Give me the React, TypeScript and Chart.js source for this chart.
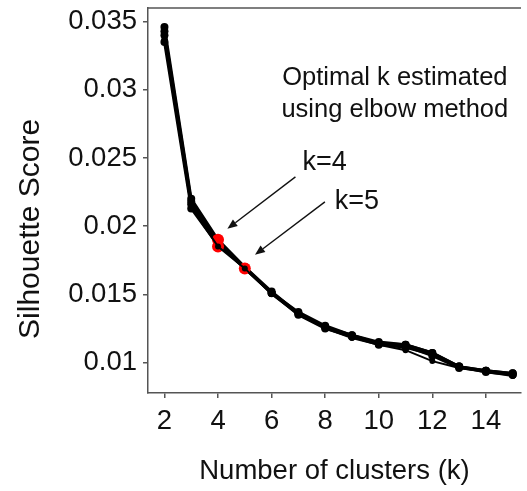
import React, { useEffect, useRef } from "react";
import { Chart, registerables } from "chart.js";
Chart.register(...registerables);

// ---- data ----
const clusters = [2, 3, 4, 5, 6, 7, 8, 9, 10, 11, 12, 13, 14, 15];
const run1 = [0.0346, 0.022, 0.019, 0.017, 0.0152, 0.0136, 0.0126, 0.012, 0.0114, 0.0113, 0.0107, 0.0097, 0.0094, 0.0092];
const run2 = [0.0343, 0.0218, 0.0188, 0.0169, 0.0151, 0.0135, 0.0125, 0.0119, 0.0113, 0.0111, 0.0106, 0.0097, 0.0093, 0.0091];
const run3 = [0.034, 0.0216, 0.0187, 0.0169, 0.0151, 0.0136, 0.0126, 0.0119, 0.0114, 0.0112, 0.0105, 0.0096, 0.0094, 0.0091];
const run4 = [0.0337, 0.0214, 0.0185, 0.0169, 0.015, 0.0135, 0.0125, 0.0118, 0.0113, 0.0109, 0.0101, 0.0096, 0.0093, 0.009];
const run5 = [0.0335, 0.0213, 0.0186, 0.017, 0.0151, 0.0137, 0.0127, 0.012, 0.0115, 0.0113, 0.0107, 0.0097, 0.0094, 0.0092];
const runs = [run1, run2, run3, run4, run5];
const topRun = 3; // index of the run drawn above the red elbow markers

const elbowK = [4, 4, 5];
const elbowScore = [0.019, 0.0185, 0.0169];

const xTicks = [2, 4, 6, 8, 10, 12, 14];
const yTicks = [0.01, 0.015, 0.02, 0.025, 0.03, 0.035];
const xRange = [1.386, 15.31];
const yRange = [0.00776, 0.036];

const xTitle = "Number of clusters (k)";
const yTitle = "Silhouette Score";
const yTitleCenter = 0.0198; // data value at which the y title is centred

const noteLines = ["Optimal k estimated", "using elbow method"];
const noteX = 10.6;
const noteY = [0.03087, 0.02852];

const arrowLabels = ["k=4", "k=5"];
const arrowLabelX = [7.15, 8.36];
const arrowLabelY = [0.02464, 0.02178];
const arrowTailX = [6.89, 7.99];
const arrowTailY = [0.02361, 0.02178];
const arrowTipX = [4.35, 5.38];
const arrowTipY = [0.0198, 0.0179];

const FONT = '"Liberation Sans", Arial, Helvetica, sans-serif';
const AXIS_COLOR = "#555";
const TEXT_COLOR = "#111";

const annotate = {
  id: "annotate",
  afterDatasetsDraw(chart: any) {
    const { ctx, chartArea, scales } = chart;
    const x = scales.x;
    const y = scales.y;
    ctx.save();
    // top frame line
    ctx.strokeStyle = AXIS_COLOR;
    ctx.lineWidth = 1.5;
    ctx.beginPath();
    ctx.moveTo(chartArea.left, chartArea.top);
    ctx.lineTo(chartArea.right, chartArea.top);
    ctx.stroke();

    // y title
    ctx.save();
    ctx.fillStyle = TEXT_COLOR;
    ctx.font = `30px ${FONT}`;
    ctx.textAlign = "center";
    ctx.textBaseline = "middle";
    ctx.translate(31, y.getPixelForValue(yTitleCenter));
    ctx.rotate(-Math.PI / 2);
    ctx.fillText(yTitle, 0, 0);
    ctx.restore();

    ctx.fillStyle = TEXT_COLOR;
    ctx.font = `25.5px ${FONT}`;
    ctx.textAlign = "center";
    ctx.textBaseline = "middle";
    noteLines.forEach((t, i) => {
      ctx.fillText(t, x.getPixelForValue(noteX), y.getPixelForValue(noteY[i]));
    });

    ctx.textAlign = "left";
    ctx.font = `27px ${FONT}`;
    arrowLabels.forEach((t, i) => {
      ctx.fillStyle = TEXT_COLOR;
      ctx.fillText(t, x.getPixelForValue(arrowLabelX[i]), y.getPixelForValue(arrowLabelY[i]));
      const x0 = x.getPixelForValue(arrowTailX[i]);
      const y0 = y.getPixelForValue(arrowTailY[i]);
      const x1 = x.getPixelForValue(arrowTipX[i]);
      const y1 = y.getPixelForValue(arrowTipY[i]);
      const ang = Math.atan2(y1 - y0, x1 - x0);
      const hl = 10;
      const hw = 4;
      const bx = x1 - hl * Math.cos(ang);
      const by = y1 - hl * Math.sin(ang);
      ctx.strokeStyle = "#111";
      ctx.lineWidth = 1.4;
      ctx.beginPath();
      ctx.moveTo(x0, y0);
      ctx.lineTo(bx, by);
      ctx.stroke();
      ctx.fillStyle = "#111";
      ctx.beginPath();
      ctx.moveTo(x1, y1);
      ctx.lineTo(bx + hw * Math.sin(ang), by - hw * Math.cos(ang));
      ctx.lineTo(bx - hw * Math.sin(ang), by + hw * Math.cos(ang));
      ctx.closePath();
      ctx.fill();
    });
    ctx.restore();
  },
};

export default function App() {
  const ref = useRef<HTMLCanvasElement>(null);
  useEffect(() => {
    if (!ref.current) return;
    const lineSets = runs.map((r, i) => ({
      label: `run ${i + 1}`,
      data: clusters.map((k, j) => ({ x: k, y: r[j] })),
      borderColor: "#000",
      backgroundColor: "#000",
      borderWidth: i === topRun ? 2 : 2.8,
      pointRadius: i === topRun ? 3 : 4,
      pointBorderWidth: 0,
      tension: 0,
      order: i === topRun ? 0 : 2,
    }));
    const chart = new Chart(ref.current, {
      type: "line",
      data: {
        datasets: [
          ...lineSets,
          {
            label: "elbow",
            data: elbowK.map((k, j) => ({ x: k, y: elbowScore[j] })),
            showLine: false,
            borderColor: "#ff0000",
            backgroundColor: "#ff0000",
            pointRadius: 6,
            pointBorderWidth: 0,
            order: 1,
          },
        ],
      },
      options: {
        animation: false,
        responsive: false,
        devicePixelRatio: 1,
        layout: { padding: { top: 8, right: 0, left: 0, bottom: 0 } },
        plugins: { legend: { display: false }, tooltip: { enabled: false } },
        scales: {
          x: {
            type: "linear",
            min: xRange[0],
            max: xRange[1],
            afterBuildTicks: (s: any) => {
              s.ticks = xTicks.map((v) => ({ value: v }));
            },
            ticks: {
              font: { family: FONT, size: 27.5 },
              color: TEXT_COLOR,
              padding: 7,
              maxRotation: 0,
              autoSkip: false,
              callback: (v: any) => String(v),
            },
            grid: { display: true, drawOnChartArea: false, tickLength: 5, color: AXIS_COLOR, lineWidth: 1.5 },
            border: { display: true, color: AXIS_COLOR, width: 1.5 },
            title: {
              display: true,
              text: xTitle,
              color: TEXT_COLOR,
              font: { family: FONT, size: 27.5 },
              padding: { top: 0, bottom: 3 },
            },
            afterFit: (s: any) => {
              s.height = 98;
              s.paddingLeft = 0;
              s.paddingRight = 0;
            },
          },
          y: {
            type: "linear",
            min: yRange[0],
            max: yRange[1],
            afterBuildTicks: (s: any) => {
              s.ticks = yTicks.map((v) => ({ value: v }));
            },
            ticks: {
              font: { family: FONT, size: 27.5 },
              color: TEXT_COLOR,
              padding: 6,
              autoSkip: false,
              callback: (v: any) => String(v),
            },
            grid: { display: true, drawOnChartArea: false, tickLength: 5, color: AXIS_COLOR, lineWidth: 1.5 },
            border: { display: true, color: AXIS_COLOR, width: 1.5 },
            title: { display: false, text: yTitle },
            afterFit: (s: any) => {
              s.width = 148;
              s.paddingTop = 0;
              s.paddingBottom = 0;
            },
          },
        },
      },
      plugins: [annotate],
    } as any);
    return () => chart.destroy();
  }, []);
  return (
    <div style={{ position: "fixed", left: 0, top: 0, width: 527, height: 491, background: "#fff" }}>
      <canvas ref={ref} width={527} height={491} style={{ display: "block" }} />
    </div>
  );
}
